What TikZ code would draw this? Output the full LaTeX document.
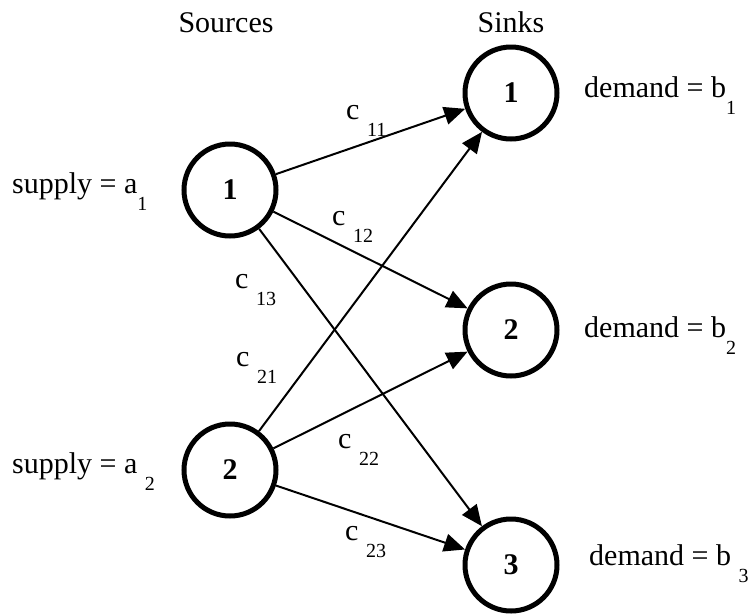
\documentclass[tikz,border=0pt]{standalone}
\usepackage{fontspec}
\setmainfont{Liberation Serif}
\usetikzlibrary{arrows.meta}
\newcommand\lowsub[1]{\raisebox{-17pt}{\fontsize{20}{20}\selectfont #1}}
\tikzset{
  vtx/.style={circle, draw, line width=5pt, minimum size=92pt, inner sep=0pt,
              font=\fontsize{30}{36}\selectfont\bfseries},
  flow/.style={line width=2pt, -{Triangle[length=21pt,width=18pt]}},
  lbl/.style={inner sep=0pt, anchor=base west, font=\fontsize{30}{36}\selectfont},
  hdr/.style={inner sep=0pt, anchor=base, font=\fontsize{30}{36}\selectfont}
}
\begin{document}
\begin{tikzpicture}[x=1pt, y=-1pt]
\useasboundingbox (0,0) rectangle (753,614);
% headers
\node[hdr] (hsrc) at (226,32) {Sources};
\node[hdr] (hsnk) at (511,32) {Sinks};
% nodes
\node[vtx] (s1) at (230,190) {1};
\node[vtx] (s2) at (230,470) {2};
\node[vtx] (t1) at (511,93) {1};
\node[vtx] (t2) at (511,330) {2};
\node[vtx] (t3) at (511,565) {3};
% supply / demand
\node[lbl] (sup1) at (12,193) {supply = a\lowsub{1}};
\node[lbl] (sup2) at (12,473) {supply = a \lowsub{2}};
\node[lbl] (dem1) at (584,97) {demand = b\lowsub{1}};
\node[lbl] (dem2) at (584,337) {demand = b\lowsub{2}};
\node[lbl] (dem3) at (589,565) {demand = b \lowsub{3}};
% arcs
\draw[flow] (s1) -- (t1);
\draw[flow] (s1) -- (t2);
\draw[flow] (s1) -- (t3);
\draw[flow] (s2) -- (t1);
\draw[flow] (s2) -- (t2);
\draw[flow] (s2) -- (t3);
% cost labels
\node[lbl] (c11) at (346,119) {c \lowsub{11}};
\node[lbl] (c12) at (332,225) {c \lowsub{12}};
\node[lbl] (c13) at (235,288) {c \lowsub{13}};
\node[lbl] (c21) at (236,366) {c \lowsub{21}};
\node[lbl] (c22) at (338,448) {c \lowsub{22}};
\node[lbl] (c23) at (345,540) {c \lowsub{23}};
\end{tikzpicture}
\end{document}
